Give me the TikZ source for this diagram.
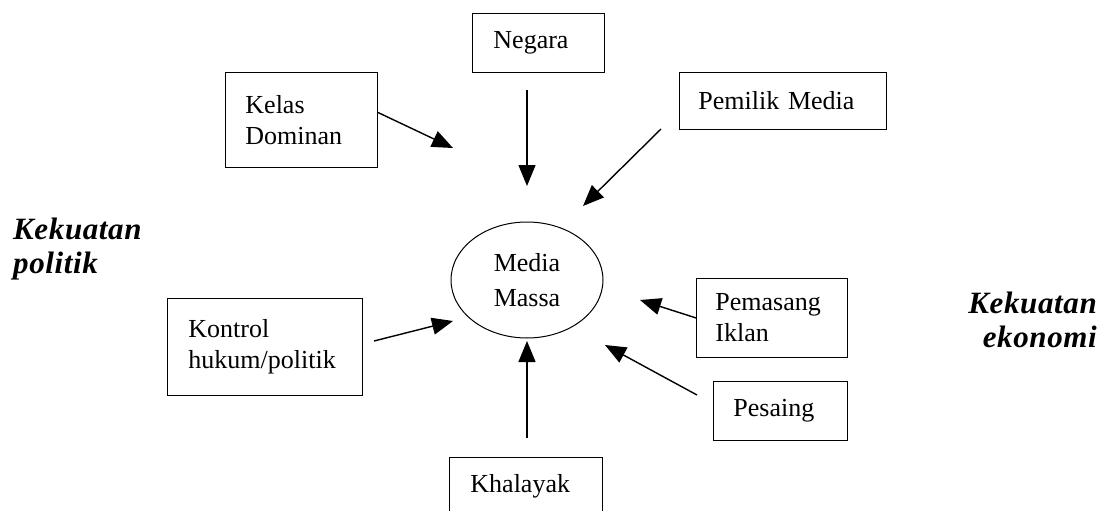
\documentclass[tikz,border=0pt]{standalone}
\usepackage{fontspec}
\setmainfont{Liberation Serif}
\usetikzlibrary{arrows.meta,shapes.geometric}
\begin{document}
\begin{tikzpicture}[x=1pt,y=-1pt,
  box/.style={draw, line width=0.9pt, rectangle, font=\fontsize{26}{31}\selectfont,
    align=left, anchor=north west, inner ysep=0pt},
  arr/.style={line width=1.4pt, -{Triangle[length=21pt,width=17pt]}},
  side/.style={font=\fontsize{31}{34}\selectfont\bfseries\itshape\addfontfeatures{LetterSpace=2}, inner sep=0pt}]
\useasboundingbox[fill=white] (0,0) rectangle (1101,511);

% boxes
\node[box, inner xsep=21pt, text width=90pt, minimum height=59pt] (negara) at (472,13) {Negara};
\node[box, inner xsep=20pt, text width=112pt, minimum height=95pt] (kelas) at (225,72) {Kelas\\Dominan};
\node[box, inner xsep=19pt, text width=169pt, minimum height=57pt] (pemilik) at (679,72) {Pemilik Media};
\node[box, inner xsep=21pt, text width=153pt, minimum height=97pt] (kontrol) at (167,298) {Kontrol\\hukum/politik};
\node[box, inner xsep=19pt, text width=113pt, minimum height=79pt] (pemasang) at (696,278) {Pemasang\\Iklan};
\node[box, inner xsep=20pt, text width=94pt, minimum height=59pt] (pesaing) at (713,381) {Pesaing};
\node[box, inner xsep=21pt, text width=111pt, minimum height=58pt] (khalayak) at (449,457) {Khalayak};

% central ellipse
\node[ellipse, draw, line width=1pt, minimum width=152pt, minimum height=116pt, inner sep=0pt,
  align=center, font=\fontsize{26}{35}\selectfont] (media) at (527,280) {Media\\Massa};

% side labels
\node[side, align=left, anchor=west] (kpol) at (13,249) {Kekuatan\\politik};
\node[side, align=right, anchor=east] (keko) at (1097,320) {Kekuatan\\ekonomi};

% arrow ends
\coordinate (kelasT) at (453,148);
\coordinate (negaraS) at (527,90);
\coordinate (negaraT) at (527,186);
\coordinate (pemilikS) at (661,129);
\coordinate (pemilikT) at (583,206);
\coordinate (kontrolS) at (374,341);
\coordinate (kontrolT) at (453,321);
\coordinate (pemasangT) at (640,300);
\coordinate (pesaingS) at (697,395);
\coordinate (pesaingT) at (605,345);
\coordinate (khalayakS) at (527,438);
\coordinate (khalayakT) at (527,341);

% arrows
\draw[arr] ([yshift=7.5pt]kelas.east) -- (kelasT);
\draw[arr] (negaraS) -- (negaraT);
\draw[arr] (pemilikS) -- (pemilikT);
\draw[arr] (kontrolS) -- (kontrolT);
\draw[arr] (pemasang.west) -- (pemasangT);
\draw[arr] (pesaingS) -- (pesaingT);
\draw[arr] (khalayakS) -- (khalayakT);
\end{tikzpicture}
\end{document}
